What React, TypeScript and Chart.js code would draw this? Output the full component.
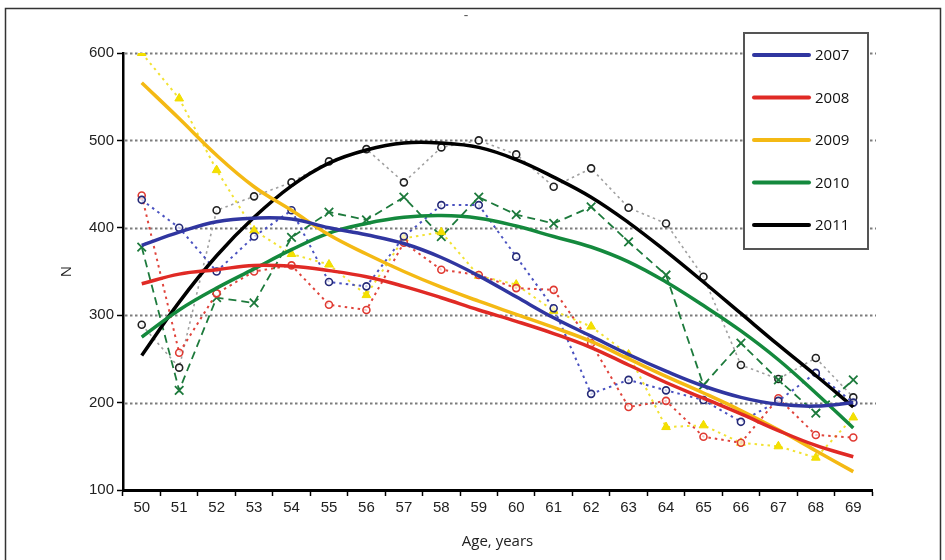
import React, { useEffect, useRef } from 'react';
import { Chart, registerables } from 'chart.js';

Chart.register(...registerables);

// ---------------- data ----------------
const ages = ['50', '51', '52', '53', '54', '55', '56', '57', '58', '59', '60', '61', '62', '63', '64', '65', '66', '67', '68', '69'];
const years = ['2007', '2008', '2009', '2010', '2011'];
const yTickValues = [100, 200, 300, 400, 500, 600];

// smoothed trend curves
const trend2007 = [380, 395, 407, 411, 410, 400, 392, 382, 366, 345, 321, 297, 276, 255, 236, 219, 206, 198, 196, 200];
const trend2008 = [336, 347, 352, 357, 356, 351, 344, 333, 320, 306, 293, 279, 263, 243, 223, 205, 187, 168, 151, 138];
const trend2009 = [566, 525, 483, 447, 420, 392, 370, 350, 332, 316, 301, 286, 270, 250, 230, 211, 191, 169, 145, 121];
const trend2010 = [275, 306, 331, 353, 375, 394, 405, 412, 414, 411, 402, 390, 378, 361, 338, 311, 282, 249, 211, 171];
const trend2011 = [254, 315, 368, 412, 448, 474, 489, 497, 497, 492, 478, 458, 435, 406, 373, 338, 302, 266, 231, 195];

// observed values
const obs2007 = [432, 400, 350, 390, 420, 338, 333, 390, 426, 426, 367, 308, 210, 226, 214, 203, 178, 202, 234, 200];
const obs2008 = [437, 257, 325, 350, 357, 312, 306, 383, 352, 346, 331, 329, 268, 195, 202, 161, 154, 205, 163, 160];
const obs2009 = [600, 548, 466, 397, 370, 358, 323, 388, 395, 345, 335, 305, 287, 255, 172, 174, 154, 150, 137, 183];
const obs2010 = [378, 214, 320, 314, 389, 418, 409, 435, 390, 435, 415, 405, 424, 384, 346, 220, 268, 226, 188, 226];
const obs2011 = [289, 240, 420, 436, 452, 476, 490, 452, 492, 500, 484, 447, 468, 423, 405, 344, 243, 227, 251, 206];

const trendColors = ['#3036a0', '#e02a25', '#f4b914', '#14893d', '#000000'];

const tickFont = { family: '"Liberation Sans Narrow", "Liberation Sans", Arial, sans-serif', size: 15 };
const textFont = '"Open Sans", "Noto Sans", sans-serif';

const framePlugin = {
  id: 'frame',
  beforeDraw(chart: any) {
    const ctx = chart.ctx;
    ctx.save();
    ctx.fillStyle = '#ffffff';
    ctx.fillRect(0, 0, chart.width, chart.height);
    ctx.strokeStyle = '#333333';
    ctx.lineWidth = 1.5;
    ctx.beginPath();
    ctx.moveTo(5.5, 560);
    ctx.lineTo(5.5, 8.5);
    ctx.lineTo(940.5, 8.5);
    ctx.lineTo(940.5, 560);
    ctx.stroke();
    ctx.fillStyle = '#555555';
    ctx.font = '14px ' + textFont;
    ctx.textAlign = 'center';
    ctx.textBaseline = 'middle';
    ctx.fillText('-', 466, 16);
    ctx.restore();
  },
};

const dottedGridPlugin = {
  id: 'dottedGrid',
  beforeDatasetsDraw(chart: any) {
    const ctx = chart.ctx;
    const y = chart.scales.y;
    const area = chart.chartArea;
    ctx.save();
    ctx.strokeStyle = '#7c7c7c';
    ctx.lineWidth = 2;
    ctx.setLineDash([2.5, 2.5]);
    yTickValues.forEach((v) => {
      if (v === 100) return;
      const py = Math.round(y.getPixelForValue(v)) + 0.5;
      ctx.beginPath();
      ctx.moveTo(area.left + 2, py);
      ctx.lineTo(area.right + 4, py);
      ctx.stroke();
    });
    ctx.restore();
  },
};

const legendBoxPlugin = {
  id: 'legendBox',
  afterDatasetsDraw(chart: any) {
    const ctx = chart.ctx;
    ctx.save();
    ctx.fillStyle = '#ffffff';
    ctx.fillRect(744, 33, 124, 216);
    ctx.strokeStyle = '#555555';
    ctx.lineWidth = 2;
    ctx.strokeRect(744, 33, 124, 216);
    ctx.lineCap = 'round';
    ctx.textAlign = 'left';
    ctx.textBaseline = 'middle';
    ctx.font = '15px ' + textFont;
    years.forEach((yr, i) => {
      const ly = 55 + i * 42.5;
      ctx.strokeStyle = trendColors[i];
      ctx.lineWidth = 4;
      ctx.beginPath();
      ctx.moveTo(754, ly);
      ctx.lineTo(809, ly);
      ctx.stroke();
      ctx.fillStyle = '#111111';
      ctx.fillText(yr, 815, ly + 1);
    });
    ctx.restore();
  },
};

export default function App() {
  const ref = useRef<HTMLCanvasElement | null>(null);

  useEffect(() => {
    if (!ref.current) return;
    const trends = [trend2007, trend2008, trend2009, trend2010, trend2011];
    const trendSets = trends.map((d, i) => ({
      label: years[i],
      data: d,
      borderColor: trendColors[i],
      backgroundColor: trendColors[i],
      borderWidth: 3.5,
      pointRadius: 0,
      tension: 0.4,
      fill: false,
      order: 0,
    }));
    const obsSets = [
      {
        label: 'obs2007',
        data: obs2007,
        borderColor: '#4a52c0',
        borderWidth: 2,
        borderDash: [2.5, 4],
        pointStyle: 'circle',
        pointRadius: 3.5,
        pointBorderWidth: 1.6,
        pointBorderColor: '#252a78',
        pointBackgroundColor: 'rgba(255,255,255,0.7)',
        tension: 0,
        order: 1,
      },
      {
        label: 'obs2008',
        data: obs2008,
        borderColor: '#e0443c',
        borderWidth: 2,
        borderDash: [2.5, 4],
        pointStyle: 'circle',
        pointRadius: 3.5,
        pointBorderWidth: 1.6,
        pointBorderColor: '#e03a32',
        pointBackgroundColor: 'rgba(255,255,255,0.7)',
        tension: 0,
        order: 1,
      },
      {
        label: 'obs2009',
        data: obs2009,
        borderColor: '#f2e233',
        borderWidth: 2,
        borderDash: [2.5, 4],
        pointStyle: 'triangle',
        pointRadius: 5,
        pointBorderWidth: 1,
        pointBorderColor: '#f0dc00',
        pointBackgroundColor: '#f5e000',
        tension: 0,
        order: 1,
      },
      {
        label: 'obs2010',
        data: obs2010,
        borderColor: '#1d7a3c',
        borderWidth: 1.8,
        borderDash: [8, 5],
        pointStyle: 'crossRot',
        pointRadius: 6,
        pointBorderWidth: 1.8,
        pointBorderColor: '#1d7a3c',
        pointBackgroundColor: '#1d7a3c',
        tension: 0,
        order: 1,
      },
      {
        label: 'obs2011',
        data: obs2011,
        borderColor: '#a0a0a0',
        borderWidth: 1.6,
        borderDash: [2.5, 3.5],
        pointStyle: 'circle',
        pointRadius: 3.5,
        pointBorderWidth: 1.6,
        pointBorderColor: '#222222',
        pointBackgroundColor: 'rgba(255,255,255,0.7)',
        tension: 0,
        order: 1,
      },
    ];

    const chart = new Chart(ref.current, {
      type: 'line',
      data: { labels: ages, datasets: [...trendSets, ...obsSets] as any },
      options: {
        responsive: false,
        animation: false,
        layout: { padding: { left: 55, top: 53, right: 73, bottom: 0 } },
        plugins: {
          legend: { display: false },
          tooltip: { enabled: false },
          title: { display: false },
        },
        scales: {
          x: {
            type: 'category',
            offset: true,
            grid: {
              offset: true,
              drawOnChartArea: false,
              drawTicks: true,
              tickLength: 6,
              tickColor: '#000000',
              tickWidth: 1.5,
            },
            border: { display: true, color: '#000000', width: 3 },
            ticks: { color: '#222222', font: tickFont, padding: 3, maxRotation: 0, autoSkip: false },
            title: {
              display: true,
              text: 'Age, years',
              color: '#222222',
              font: { family: textFont, size: 15 },
              padding: { top: 0, bottom: 9 },
            },
            afterFit: (scale: any) => {
              scale.height = 70;
            },
          },
          y: {
            min: 100,
            max: 600,
            afterBuildTicks: (scale: any) => {
              scale.ticks = yTickValues.map((v) => ({ value: v }));
            },
            grid: {
              drawOnChartArea: false,
              drawTicks: true,
              tickLength: 6,
              tickColor: '#000000',
              tickWidth: 1.5,
            },
            border: { display: true, color: '#000000', width: 2.5 },
            ticks: { color: '#222222', font: tickFont, padding: 3 },
            title: {
              display: true,
              text: 'N',
              color: '#222222',
              font: { family: textFont, size: 15 },
              padding: { top: 3, bottom: 0 },
            },
            afterFit: (scale: any) => {
              scale.width = 68;
            },
          },
        },
      },
      plugins: [framePlugin, dottedGridPlugin, legendBoxPlugin],
    });
    return () => chart.destroy();
  }, []);

  return (
    <div style={{ position: 'fixed', left: 0, top: 0, width: 945, height: 560 }}>
      <canvas ref={ref} width={945} height={560} style={{ display: 'block', width: 945, height: 560 }} />
    </div>
  );
}
